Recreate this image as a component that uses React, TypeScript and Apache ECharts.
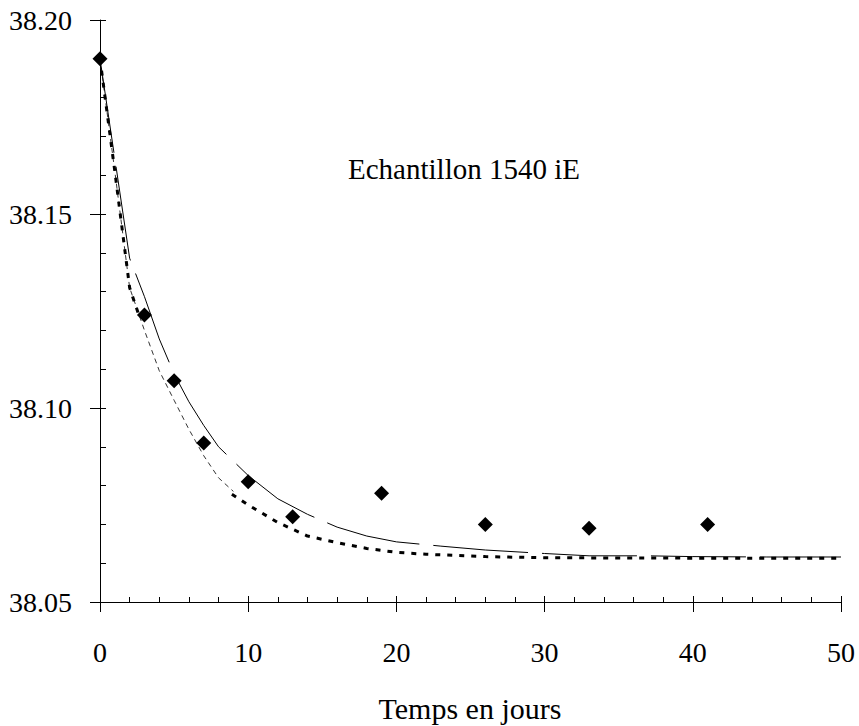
import React, { useEffect, useRef } from "react";
import * as echarts from "echarts";

// Measured points (diamonds)
const measDays = [0, 3, 5, 7, 10, 13, 19, 26, 33, 41];
const measValues = [38.19, 38.124, 38.107, 38.091, 38.081, 38.072, 38.078, 38.07, 38.069, 38.07];

// Upper model curve (long-dash solid)
const solidDays = [0, 2, 3, 4, 5, 6, 7, 8, 10, 12, 14, 16, 18, 20, 23, 26, 30, 33, 37, 40, 45, 50];
const solidValues = [38.19, 38.1386, 38.1287, 38.1178, 38.1088, 38.1016, 38.0955, 38.09, 38.0826, 38.0766, 38.0726, 38.0693, 38.067, 38.0655, 38.0644, 38.0634, 38.0625, 38.0619, 38.0619, 38.0617, 38.0616, 38.0616];

// Lower model curve, thick dotted part (visible near the start and from ~day 9 on)
const thickEarlyDays = [0, 1, 2, 2.6];
const thickEarlyValues = [38.19, 38.161, 38.131, 38.1242];
const thickLateDays = [8.9, 10, 12, 14, 16, 18, 20, 22, 26, 30, 40, 50];
const thickLateValues = [38.0778, 38.075, 38.0705, 38.067, 38.0653, 38.0638, 38.0628, 38.0623, 38.0617, 38.0614, 38.0613, 38.0613];

// Lower model curve, thin grey dashed part (days 0–9)
const greyDays = [0, 1, 2, 3, 4, 5, 6, 7, 8, 9];
const greyValues = [38.19, 38.161, 38.131, 38.12, 38.1096, 38.102, 38.0945, 38.0877, 38.082, 38.0785];

const xTicks = { min: 0, max: 50, interval: 10 };
const yTicks = { min: 38.05, max: 38.2, interval: 0.05 };

const titleText = "Echantillon 1540 iE";
const xTitle = "Temps en jours";

const FONT = "'Liberation Serif', 'Times New Roman', serif";

function pairs(xs: number[], ys: number[]) {
  return xs.map((x, i) => [x, ys[i]]);
}

export default function App() {
  const ref = useRef<HTMLDivElement>(null);
  useEffect(() => {
    if (!ref.current) return;
    const chart = echarts.init(ref.current, undefined, { renderer: "svg" });
    const axisCommon = {
      type: "value" as const,
      splitLine: { show: false },
    };
    const thickData = [
      ...pairs(thickEarlyDays, thickEarlyValues),
      [null, null],
      ...pairs(thickLateDays, thickLateValues),
    ];
    chart.setOption({
      animation: false,
      backgroundColor: "#ffffff",
      textStyle: { fontFamily: FONT },
      grid: { left: 100, right: 18, top: 20, bottom: 124, containLabel: false, outerBoundsMode: "none" },
      xAxis: [
        {
          ...axisCommon,
          ...xTicks,
          position: "bottom",
          axisLine: { show: true, onZero: false, lineStyle: { color: "#000", width: 1 } },
          axisTick: { show: true, inside: false, length: 10, lineStyle: { color: "#000" } },
          minorTick: { show: false },
          axisLabel: { show: true, margin: 36, color: "#000", fontSize: 28, fontFamily: FONT, hideOverlap: false },
        },
        {
          ...axisCommon,
          ...xTicks,
          position: "bottom",
          axisLine: { show: false, onZero: false },
          axisTick: { show: true, inside: true, length: 6, lineStyle: { color: "#000" } },
          minorTick: { show: true, splitNumber: 5, length: 5, lineStyle: { color: "#000" } },
          axisLabel: { show: false },
        },
      ],
      yAxis: [
        {
          ...axisCommon,
          ...yTicks,
          position: "left",
          axisLine: { show: true, onZero: false, lineStyle: { color: "#000", width: 1 } },
          axisTick: { show: true, inside: false, length: 10, lineStyle: { color: "#000" } },
          minorTick: { show: false },
          axisLabel: {
            show: true,
            margin: 28,
            color: "#000",
            fontSize: 28,
            fontFamily: FONT,
            hideOverlap: false,
            formatter: (v: number) => v.toFixed(2),
          },
        },
        {
          ...axisCommon,
          ...yTicks,
          position: "left",
          axisLine: { show: false, onZero: false },
          axisTick: { show: true, inside: true, length: 6, lineStyle: { color: "#000" } },
          minorTick: { show: true, splitNumber: 5, length: 6, lineStyle: { color: "#000" } },
          axisLabel: { show: false },
        },
      ],
      graphic: [
        {
          type: "text",
          left: 348,
          top: 154,
          style: { text: titleText, fontSize: 29, fontFamily: FONT, fill: "#000" },
        },
        {
          type: "text",
          x: 470,
          y: 708,
          style: { text: xTitle, fontSize: 30, fontFamily: FONT, fill: "#000", align: "center", verticalAlign: "middle" },
        },
      ],
      series: [
        {
          type: "line",
          data: pairs(greyDays, greyValues),
          showSymbol: false,
          symbol: "none",
          lineStyle: { color: "#333", width: 1, type: [5, 4] },
          z: 2,
        },
        {
          type: "line",
          data: thickData,
          connectNulls: false,
          showSymbol: false,
          symbol: "none",
          lineStyle: { color: "#000", width: 3, type: [5, 7] },
          z: 3,
        },
        {
          type: "line",
          data: pairs(solidDays, solidValues),
          showSymbol: false,
          symbol: "none",
          lineStyle: { color: "#000", width: 1, type: [95, 14] },
          z: 4,
        },
        {
          type: "scatter",
          data: pairs(measDays, measValues),
          symbol: "diamond",
          symbolSize: 15,
          itemStyle: { color: "#000", opacity: 1 },
          z: 5,
        },
      ],
    });
    return () => chart.dispose();
  }, []);
  return (
    <div
      ref={ref}
      style={{ position: "fixed", left: 0, top: 0, width: 859, height: 726, background: "#fff" }}
    />
  );
}
